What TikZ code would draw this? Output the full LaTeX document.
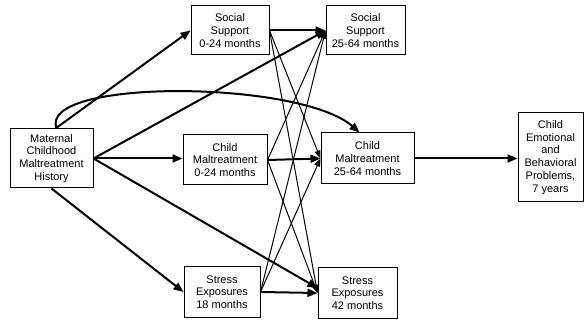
\documentclass[tikz,border=0pt]{standalone}
\usepackage{fontspec}
\setmainfont{Liberation Sans}
\usetikzlibrary{arrows.meta}
\begin{document}
\begin{tikzpicture}[x=1pt,y=-1pt,
  box/.style={draw,line width=1pt,inner sep=0pt,align=center,
    font=\fontsize{11}{12.7}\selectfont},
  thickarrow/.style={line width=2pt,-{Triangle[length=10pt,width=8pt]}},
  thinarrow/.style={line width=1pt,-{Triangle[length=8pt,width=6pt]}}]
\useasboundingbox (0,0) rectangle (584,323);
\node[box,minimum width=83pt,minimum height=59pt] (mat) at (51.5,158.5)
  {Maternal\\Childhood\\Maltreatment\\History};
\node[box,minimum width=78pt,minimum height=49pt] (ss0) at (230,30.5)
  {Social\\Support\\0-24 months};
\node[box,minimum width=79pt,minimum height=49pt] (ss25) at (365.5,30.5)
  {Social\\Support\\25-64 months};
\node[box,minimum width=84pt,minimum height=50pt] (cm0) at (225,160)
  {Child\\Maltreatment\\0-24 months};
\node[box,minimum width=93pt,minimum height=51pt] (cm25) at (367.5,158.5)
  {Child\\Maltreatment\\25-64 months};
\node[box,minimum width=76pt,minimum height=50pt] (se18) at (222,292)
  {Stress\\Exposures\\18 months};
\node[box,minimum width=79pt,minimum height=50pt] (se42) at (357.5,293)
  {Stress\\Exposures\\42 months};
\node[box,minimum width=65pt,minimum height=89pt] (ceb) at (550.5,157.5)
  {Child\\Emotional\\and\\Behavioral\\Problems,\\7 years};
% thin cross paths
\draw[thinarrow] (ss0.east) -- (cm25.west);
\draw[thinarrow] (ss0.east) -- (se42.west);
\draw[thinarrow] (cm0.east) -- (ss25.west);
\draw[thinarrow] (cm0.east) -- (se42.west);
\draw[thinarrow] (se18.east) -- (ss25.west);
\draw[thinarrow] (se18.east) -- (cm25.west);
% thick paths
\draw[thickarrow] ([xshift=4pt]mat.north) -- (ss0.west);
\draw[thickarrow] ([xshift=5pt]mat.north) .. controls (38,78) and (300,80) .. ([xshift=-8pt]cm25.north);
\draw[thickarrow] (mat.east) -- (ss25.west);
\draw[thickarrow] (mat.east) -- (mat.east -| cm0.west);
\draw[thickarrow] (mat.east) -- ([yshift=5pt]se42.west);
\draw[thickarrow] (mat.south) -- (se18.west);
\draw[thickarrow] (ss0.east) -- (ss25.west);
\draw[thickarrow] (cm0.east) -- (cm25.west);
\draw[thickarrow] (se18.east) -- (se42.west);
\draw[thickarrow] (cm25.east) -- (cm25.east -| ceb.west);
\end{tikzpicture}
\end{document}
